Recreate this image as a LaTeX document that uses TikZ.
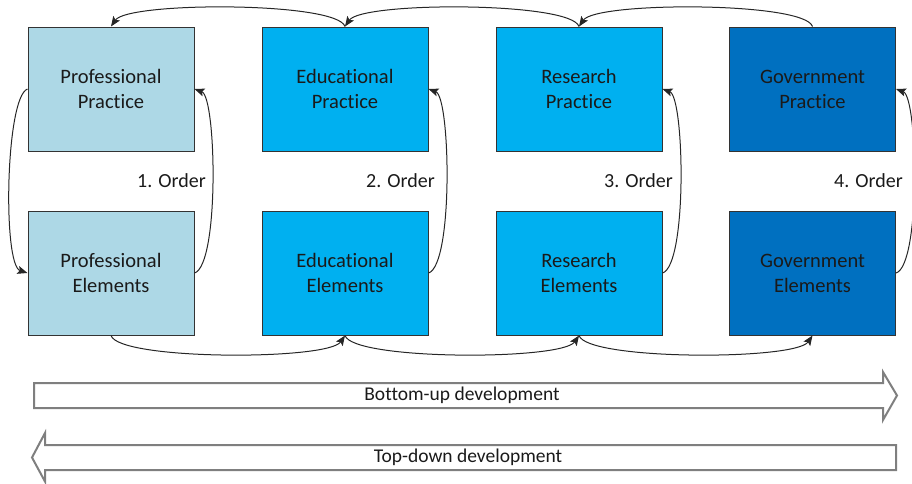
\documentclass[tikz,border=0pt]{standalone}
\usepackage{fontspec}
\setmainfont{Carlito}[Ligatures=NoCommon]
\usetikzlibrary{arrows.meta}
\definecolor{profc}{HTML}{ADD8E6}
\definecolor{educ}{HTML}{00B0F0}
\definecolor{govc}{HTML}{0070C0}
\definecolor{boxline}{HTML}{333333}
\definecolor{devline}{HTML}{7F7F7F}
\definecolor{txt}{HTML}{1A1A1A}
\tikzset{
  stagebox/.style={draw=boxline, line width=1pt, minimum width=166pt, minimum height=124pt,
    align=center, text=txt, font=\fontsize{20.5}{25}\selectfont, inner sep=0pt},
  conn/.style={draw=black!85, line width=1pt, -{Stealth[length=10pt,width=8pt,inset=2pt]}},
  orderlbl/.style={anchor=east, text=txt, font=\fontsize{20}{24}\selectfont, inner sep=0pt},
  devarrow/.style={draw=devline, line width=2pt, fill=white, line join=miter},
  devlbl/.style={text=txt, font=\fontsize{19.5}{23}\selectfont, inner sep=0pt},
}
\begin{document}
\begin{tikzpicture}[x=1pt,y=-1pt]
\useasboundingbox (0,0) rectangle (912,483);
% boxes
\node[stagebox, fill=profc] (prP) at (111,89) {Professional\\Practice};
\node[stagebox, fill=profc] (prE) at (111,273) {Professional\\Elements};
\node[stagebox, fill=educ] (edP) at (345,89) {Educational\\Practice};
\node[stagebox, fill=educ] (edE) at (345,273) {Educational\\Elements};
\node[stagebox, fill=educ] (reP) at (579,89) {Research\\Practice};
\node[stagebox, fill=educ] (reE) at (579,273) {Research\\Elements};
\node[stagebox, fill=govc] (goP) at (812.5,89) {Government\\Practice};
\node[stagebox, fill=govc] (goE) at (812.5,273) {Government\\Elements};
% order labels
\node[orderlbl] (o1) at (206,181) {1. Order};
\node[orderlbl] (o2) at (435,181) {2. Order};
\node[orderlbl] (o3) at (673,181) {3. Order};
\node[orderlbl] (o4) at (903,181) {4. Order};
% top connectors (right to left)
\draw[conn] (edP.north) .. controls +(-8,-25) and +(17,-25) .. (prP.north);
\draw[conn] (reP.north) .. controls +(-8,-25) and +(17,-25) .. (edP.north);
\draw[conn] (goP.north) .. controls +(-8,-25) and +(17,-25) .. (reP.north);
% bottom connectors (left to right)
\draw[conn] (prE.south) .. controls +(8,25) and +(-17,25) .. (edE.south);
\draw[conn] (edE.south) .. controls +(8,25) and +(-17,25) .. (reE.south);
\draw[conn] (reE.south) .. controls +(8,25) and +(-17,25) .. (goE.south);
% left loop
\draw[conn] (prP.west) .. controls +(-22,8) and +(-25,-8) .. (prE.west);
% right loops
\draw[conn] (prE.east) .. controls +(25,-8) and +(22,8) .. (prP.east);
\draw[conn] (edE.east) .. controls +(25,-8) and +(22,8) .. (edP.east);
\draw[conn] (reE.east) .. controls +(25,-8) and +(22,8) .. (reP.east);
\draw[conn] (goE.east) .. controls +(25,-8) and +(22,8) .. (goP.east);
% development arrows
\draw[devarrow] (34,383) -- (883,383) -- (883,372) -- (897,395.5) -- (883,420) -- (883,408) -- (34,408) -- cycle;
\node[devlbl] (bu) at (462,395.5) {Bottom-up development};
\draw[devarrow] (896,445) -- (45,445) -- (45,433) -- (32,457.5) -- (45,481.5) -- (45,470) -- (896,470) -- cycle;
\node[devlbl] (td) at (468,457.5) {Top-down development};
\end{tikzpicture}
\end{document}
